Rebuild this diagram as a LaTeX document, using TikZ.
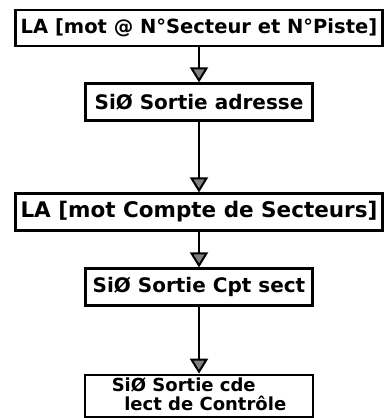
\documentclass[tikz,border=0pt]{standalone}
\usepackage{fontspec}
\setmainfont{DejaVu Sans}
\usetikzlibrary{arrows.meta}
\begin{document}
\begin{tikzpicture}[x=1pt,y=1pt,
	boite/.style={draw, line width=2.2pt, inner sep=0pt, font=\bfseries\fontsize{20}{22}\selectfont},
	fleche/.style={line width=2pt, -{Triangle[width=18pt,length=15pt,fill=gray]}}]
	\useasboundingbox (0,0) rectangle (389,418);

	\node[boite, minimum width=367, minimum height=36, font=\bfseries\fontsize{19.5}{22}\selectfont] (lire1) at (199,390) {LA [mot @ N°Secteur et N°Piste]};
	\node[boite, minimum width=227, minimum height=37] (sortie1) at (199,316) {SiØ Sortie adresse};
	\node[boite, minimum width=367, minimum height=37, font=\bfseries\fontsize{21.5}{22}\selectfont] (lire2) at (199,206) {LA [mot Compte de Secteurs]};
	\node[boite, minimum width=227, minimum height=37] (sortie2) at (199,131) {SiØ Sortie Cpt sect};
	\node[boite, minimum width=228, minimum height=38, inner ysep=2.5pt, font=\bfseries\fontsize{18}{15.5}\selectfont] (sortie3) at (199,22) {\begin{tabular}{@{}l@{}}SiØ Sortie cde\\ \ \ lect de Contrôle\end{tabular}};

	\draw[fleche] (lire1) -- (sortie1);
	\draw[fleche] (sortie1) -- (lire2);
	\draw[fleche] (lire2) -- (sortie2);
	\draw[fleche] (sortie2) -- (sortie3);
\end{tikzpicture}
\end{document}
